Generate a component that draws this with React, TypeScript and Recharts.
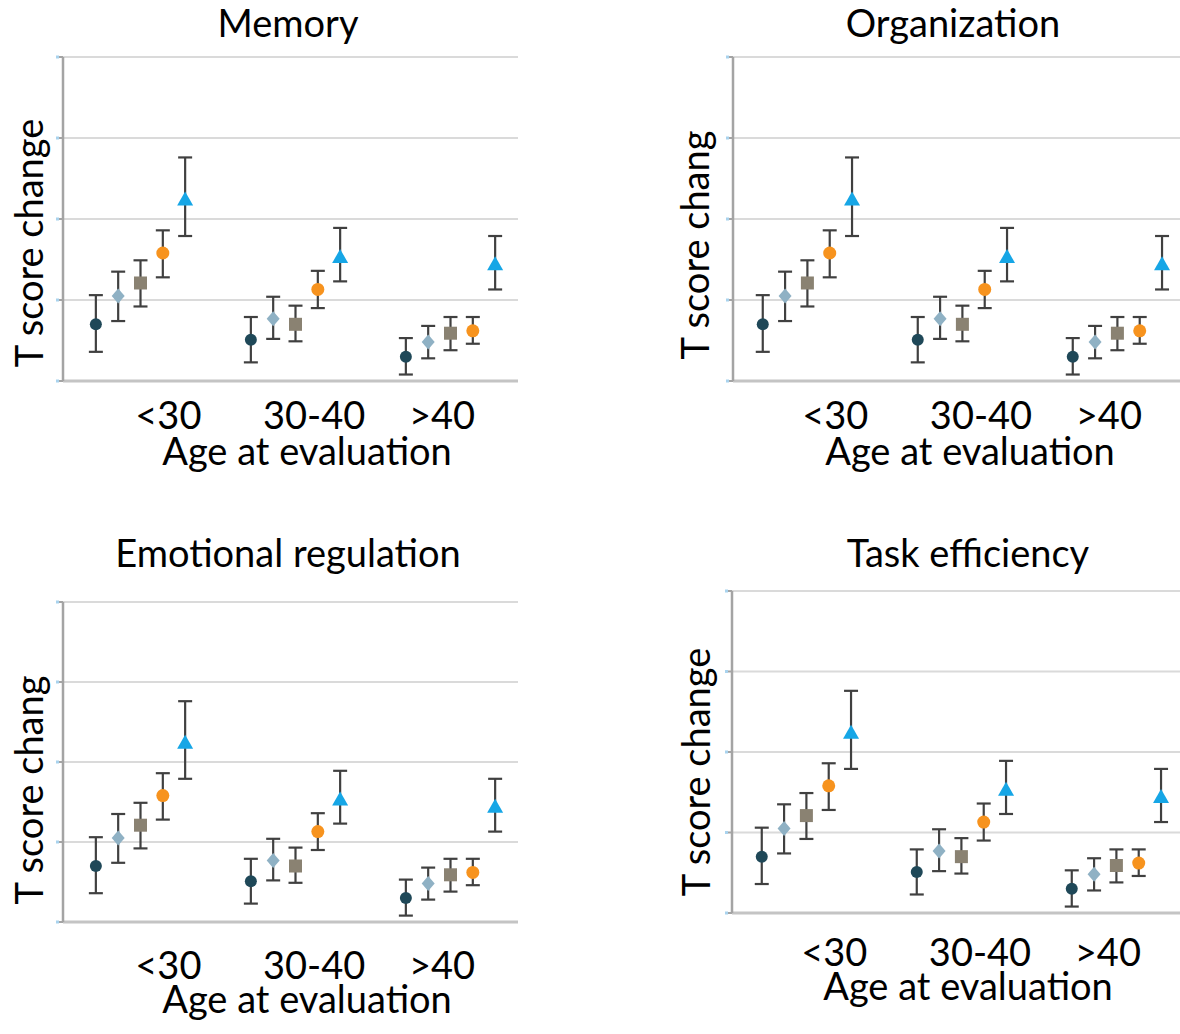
import React from "react";
import {
  ScatterChart,
  Scatter,
  XAxis,
  YAxis,
  CartesianGrid,
  ErrorBar,
} from "recharts";

const categories = ["<30", "30-40", ">40"];
const categoryTicks = [0.18, 1.12, 1.945];
const yTicks = [0, 1, 2, 3, 4];

// point estimate + lower / upper bound per age group
const navyMean = [0.7, 0.51, 0.3];
const navyLow = [0.36, 0.23, 0.08];
const navyHigh = [1.06, 0.79, 0.53];

const slateMean = [1.05, 0.77, 0.48];
const slateLow = [0.74, 0.52, 0.28];
const slateHigh = [1.35, 1.04, 0.68];

const taupeMean = [1.21, 0.7, 0.59];
const taupeLow = [0.92, 0.49, 0.38];
const taupeHigh = [1.49, 0.93, 0.79];

const orangeMean = [1.58, 1.13, 0.62];
const orangeLow = [1.28, 0.9, 0.46];
const orangeHigh = [1.86, 1.36, 0.79];

const cyanMean = [2.24, 1.53, 1.44];
const cyanLow = [1.79, 1.23, 1.13];
const cyanHigh = [2.76, 1.89, 1.79];

const FONT = "Lato, 'Open Sans', sans-serif";
const FS = 38;
const PX_PER_CAT = 155;

function buildSeries(mean: number[], low: number[], high: number[], slot: number) {
  return categories.map((_, i) => ({
    x: i + (slot - 2) * 0.144,
    y: mean[i],
    err: [mean[i] - low[i], high[i] - mean[i]],
  }));
}

const series = [
  {
    name: "navy",
    data: buildSeries(navyMean, navyLow, navyHigh, 0),
    shape: (p: any) => <circle cx={p.cx} cy={p.cy} r={6} fill="#1f4858" />,
  },
  {
    name: "slate",
    data: buildSeries(slateMean, slateLow, slateHigh, 1),
    shape: (p: any) => (
      <polygon
        points={`${p.cx},${p.cy - 7.5} ${p.cx + 6.5},${p.cy} ${p.cx},${p.cy + 7.5} ${p.cx - 6.5},${p.cy}`}
        fill="#8fb1c4"
      />
    ),
  },
  {
    name: "taupe",
    data: buildSeries(taupeMean, taupeLow, taupeHigh, 2),
    shape: (p: any) => (
      <rect x={p.cx - 6.5} y={p.cy - 6.5} width={13} height={13} fill="#8a8272" />
    ),
  },
  {
    name: "orange",
    data: buildSeries(orangeMean, orangeLow, orangeHigh, 3),
    shape: (p: any) => <circle cx={p.cx} cy={p.cy} r={6.5} fill="#f7931e" />,
  },
  {
    name: "cyan",
    data: buildSeries(cyanMean, cyanLow, cyanHigh, 4),
    shape: (p: any) => (
      <polygon
        points={`${p.cx},${p.cy - 8} ${p.cx + 8},${p.cy + 6} ${p.cx - 8},${p.cy + 6}`}
        fill="#16a6e6"
      />
    ),
  },
];

// little blue nub at the end of each y tick, like the original export
const YTickNub = (props: any) => (
  <rect x={props.x - 1} y={props.y - 1.5} width={3} height={3} fill="#a9d3ee" />
);

interface PanelProps {
  title: string;
  yLabel: string;
  axisX: number;
  plotTop: number;
  plotBottom: number;
  xStart: number;
  titleX: number;
  titleBase: number;
  tickGap: number;
  xLabelX: number;
  xLabelBase: number;
  yLabelX: number;
  yLabelY: number;
}

// top of a div so that its baseline lands on `base` (Lato metrics)
const textTop = (base: number, lh: number) =>
  base - ((lh - 1.2) / 2 + 0.987) * FS;

const textStyle: React.CSSProperties = {
  position: "absolute",
  fontFamily: FONT,
  fontSize: FS,
  color: "#000",
  whiteSpace: "nowrap",
};

function Panel(p: PanelProps) {
  const plotWidth = 455;
  const yAxisW = 63;
  const mTop = 20;
  const xAxisH = 70;
  const width = yAxisW + plotWidth + 5;
  const height = p.plotBottom - p.plotTop + mTop + xAxisH + 5;

  return (
    <>
      <div
        style={{
          ...textStyle,
          lineHeight: 0.8,
          left: p.titleX - 300,
          width: 600,
          top: textTop(p.titleBase, 0.8),
          textAlign: "center",
        }}
      >
        {p.title}
      </div>
      <div
        style={{
          ...textStyle,
          lineHeight: 0.6,
          left: p.xLabelX - 300,
          width: 600,
          top: textTop(p.xLabelBase, 0.6),
          textAlign: "center",
        }}
      >
        Age at evaluation
      </div>
      <div
        style={{
          ...textStyle,
          lineHeight: 1,
          left: p.yLabelX,
          top: p.yLabelY,
          transform: "translate(-50%, -50%) rotate(-90deg)",
        }}
      >
        {p.yLabel}
      </div>
      <div
        style={{
          position: "absolute",
          left: p.axisX - yAxisW,
          top: p.plotTop - mTop,
        }}
      >
        <ScatterChart
          width={width}
          height={height}
          margin={{ top: mTop, right: 5, bottom: 5, left: 0 }}
        >
          <CartesianGrid
            horizontal
            vertical={false}
            stroke="#dadada"
            strokeWidth={2}
          />
          <XAxis
            type="number"
            dataKey="x"
            domain={[p.xStart, p.xStart + plotWidth / PX_PER_CAT]}
            allowDataOverflow
            ticks={categoryTicks}
            tickFormatter={(_v: number, i: number) => categories[i]}
            tickLine={false}
            tickSize={0}
            tickMargin={p.tickGap}
            height={xAxisH}
            axisLine={{ stroke: "#c4c4c4", strokeWidth: 3 }}
            tick={{ fill: "#000", fontSize: FS, fontFamily: FONT }}
          />
          <YAxis
            type="number"
            dataKey="y"
            domain={[0, 4]}
            ticks={yTicks}
            width={yAxisW}
            tickSize={6}
            tickMargin={0}
            tick={<YTickNub />}
            axisLine={{ stroke: "#a4a4a4", strokeWidth: 2.5 }}
            tickLine={{ stroke: "#a4a4a4", strokeWidth: 2 }}
          />
          {series.map((s) => (
            <Scatter
              key={s.name}
              data={s.data}
              shape={s.shape}
              isAnimationActive={false}
            >
              <ErrorBar
                dataKey="err"
                direction="y"
                width={7}
                stroke="#404040"
                strokeWidth={2.2}
                isAnimationActive={false}
              />
            </Scatter>
          ))}
        </ScatterChart>
      </div>
    </>
  );
}

export default function App() {
  return (
    <div
      style={{
        position: "absolute",
        left: 0,
        top: 0,
        width: 1180,
        height: 1034,
        overflow: "hidden",
        background: "#fff",
      }}
    >
      <Panel
        title="Memory"
        yLabel="T score change"
        axisX={63}
        plotTop={57}
        plotBottom={381}
        xStart={-0.5}
        titleX={288}
        titleBase={37}
        tickGap={21}
        xLabelX={307}
        xLabelBase={465}
        yLabelX={28}
        yLabelY={243}
      />
      <Panel
        title="Organization"
        yLabel="T score chang"
        axisX={733}
        plotTop={57}
        plotBottom={381}
        xStart={-0.48}
        titleX={953}
        titleBase={37}
        tickGap={21}
        xLabelX={970}
        xLabelBase={465}
        yLabelX={694}
        yLabelY={245}
      />
      <Panel
        title="Emotional regulation"
        yLabel="T score chang"
        axisX={63}
        plotTop={602}
        plotBottom={922}
        xStart={-0.5}
        titleX={288}
        titleBase={567}
        tickGap={30}
        xLabelX={307}
        xLabelBase={1013}
        yLabelX={28}
        yLabelY={790}
      />
      <Panel
        title="Task efficiency"
        yLabel="T score change"
        axisX={732}
        plotTop={591}
        plotBottom={913}
        xStart={-0.48}
        titleX={968}
        titleBase={567}
        tickGap={26}
        xLabelX={968}
        xLabelBase={1000}
        yLabelX={695}
        yLabelY={772}
      />
    </div>
  );
}
